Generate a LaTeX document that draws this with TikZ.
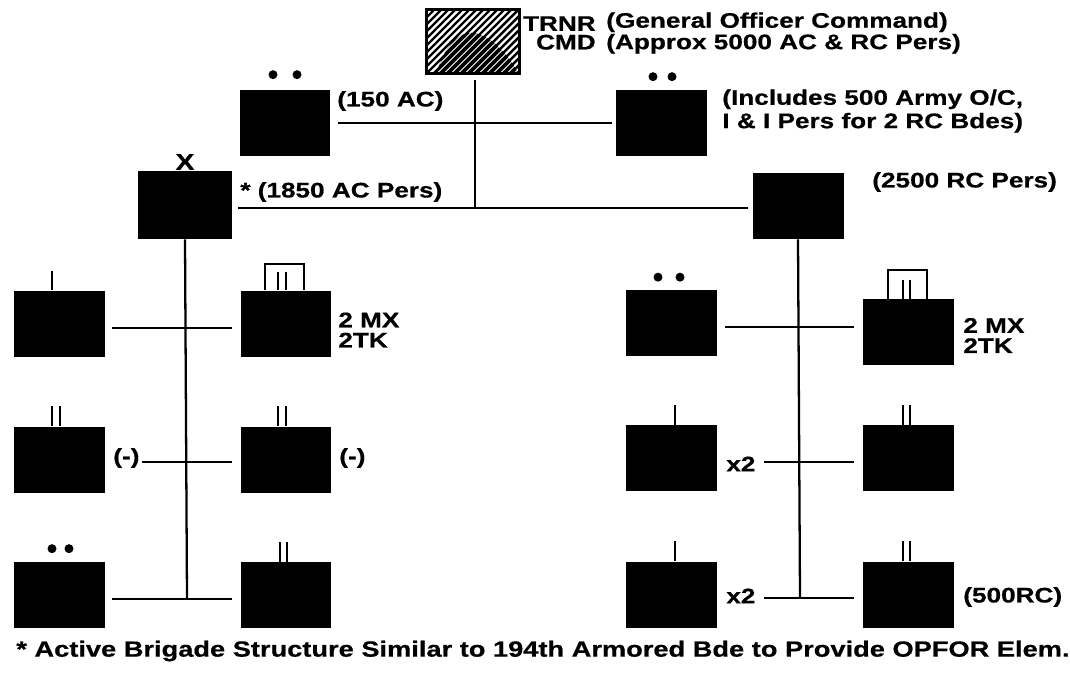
\documentclass[tikz,border=0pt]{standalone}
\usepackage{fontspec}
\setmainfont{Liberation Sans}[FakeStretch=1.24,BoldFeatures={FakeBold=0.6}]
\usetikzlibrary{positioning,calc}

\newcommand\blobpath{(436,75) .. controls (444,46) and (460,28) .. (478,34) .. controls (496,40) and (508,56) .. (520,75) -- cycle}

\begin{document}
\begin{tikzpicture}[x=0.02cm,y=-0.02cm,font=\fontsize{12}{14}\selectfont\bfseries,
  unit/.style={fill=black,inner sep=0,minimum width=1.82cm,minimum height=1.32cm},
  link/.style={line width=1.3pt},
  tick/.style={line width=1.1pt},
  lbl/.style={inner sep=0,anchor=west,align=left}]

  \useasboundingbox (0,0) rectangle (1070,676);

  % command
  \node[fill=white,inner sep=0,minimum width=1.84cm,minimum height=1.26cm] (cmd) at (473,41.5) {};
  \begin{scope}
    \clip (cmd.south west) rectangle (cmd.north east);
    \foreach \k in {0,...,26}
      \draw[line width=1.4pt] (350+7*\k,80) -- ++(85,-85);
  \end{scope}
  \begin{scope}
    \clip (cmd.south west) rectangle (cmd.north east);
    \clip \blobpath;
    \fill \blobpath;
    \foreach \k in {0,...,26}
      \draw[white,line width=0.45pt] (353.5+7*\k,80) -- ++(85,-85);
  \end{scope}
  \draw[line width=1.6pt] (cmd.south west) rectangle (cmd.north east);
  \node[inner sep=0,anchor=east,align=right,font=\fontsize{12}{10.6}\selectfont\bfseries] (trnr) at (596,33) {TRNR\\CMD};
  \node[lbl,font=\fontsize{12}{10.6}\selectfont\bfseries] (gen) at (606,33) {(General Officer Command)\\(Approx 5000 AC \& RC Pers)};

  % staff
  \node[unit] (hq1) at (285,123) {};
  \node[unit] (hq2) at (661,123) {};
  \fill ($(hq1.north)+(-12,-15)$) circle (4.5) ($(hq1.north)+(12,-15)$) circle (4.5);
  \fill ($(hq2.north)+(-8,-13)$) circle (4.5) ($(hq2.north)+(11,-13)$) circle (4.5);
  \node[lbl] (ac150) at (337,101) {(150 AC)};
  \node[lbl,font=\fontsize{12}{13.3}\selectfont\bfseries] (inc) at (722,111) {(Includes 500 Army O/C,\\I \& I Pers for 2 RC Bdes)};
  \draw[link,shorten <=4.3pt,shorten >=2pt] (hq1.east) -- (hq2.west);

  % brigades
  \node[unit,minimum width=1.88cm,minimum height=1.36cm] (bde) at (185,205) {};
  \node[unit] (rc) at (798,206) {};
  \node[inner sep=0,font=\fontsize{13}{15}\selectfont\bfseries] (xmark) at (185,162) {X};
  \node[lbl] (ac1850) at (240,192) {* (1850 AC Pers)};
  \node[lbl] (rc2500) at (872,182) {(2500 RC Pers)};
  \coordinate (tj) at (475,208);
  \draw[link] ($(tj |- cmd.south)+(0,7)$) -- (tj);
  \draw[link,shorten <=3.5pt,shorten >=2.5pt] (bde.east |- tj) -- (rc.west |- tj);

  % active side
  \node[unit] (a1) at (59.5,323.5) {};
  \node[unit] (b1) at (286,323.5) {};
  \node[unit] (a2) at (59.5,459.5) {};
  \node[unit] (b2) at (286,459.5) {};
  \node[unit] (a3) at (59.5,595) {};
  \node[unit] (b3) at (286,595) {};
  \draw[tick] ($(a1.north)+(-7.5,0)$) -- ++(0,-19);
  \draw[tick] ($(b1.north)+(-21,0)$) -- ++(0,-26) -- ++(39,0) -- ++(0,26);
  \draw[tick] ($(b1.north)+(-8,0)$) -- ++(0,-18) ($(b1.north)+(0,0)$) -- ++(0,-18);
  \draw[tick] ($(a2.north)+(-7.5,0)$) -- ++(0,-20) ($(a2.north)+(0.5,0)$) -- ++(0,-20);
  \draw[tick] ($(b2.north)+(-8,0)$) -- ++(0,-20) ($(b2.north)+(0,0)$) -- ++(0,-20);
  \draw[tick] ($(b3.north)+(-6,0)$) -- ++(0,-20) ($(b3.north)+(1,0)$) -- ++(0,-20);
  \fill ($(a3.north)+(-7.5,-13)$) circle (4.5) ($(a3.north)+(9.5,-13)$) circle (4.5);
  \node[lbl,font=\fontsize{12}{11.5}\selectfont\bfseries] (mx1) at (338,330) {2 MX\\2TK};
  \node[lbl] (m1) at (113,458) {(-)};
  \node[lbl] (m2) at (339,458) {(-)};
  \coordinate (lj1) at (187,328);
  \coordinate (lj2) at (187,462);
  \coordinate (lj3) at (187,599);
  \draw[link] (bde.south) -- (lj3);
  \draw[link,shorten <=4pt,shorten >=4.8pt] (a1.east |- lj1) -- (b1.west |- lj1);
  \draw[link,shorten <=1pt,shorten >=4.8pt] (m1.east |- lj2) -- (b2.west |- lj2);
  \draw[link,shorten <=4pt,shorten >=4.8pt] (a3.east |- lj3) -- (b3.west |- lj3);

  % reserve side
  \node[unit] (c1) at (671,322.5) {};
  \node[unit] (d1) at (908.5,332) {};
  \node[unit] (c2) at (671,458) {};
  \node[unit] (d2) at (908.5,458) {};
  \node[unit] (c3) at (671,594.5) {};
  \node[unit] (d3) at (908.5,594.5) {};
  \fill ($(c1.north)+(-13,-12)$) circle (4.5) ($(c1.north)+(9,-12)$) circle (4.5);
  \draw[tick] ($(d1.north)+(-20.5,0)$) -- ++(0,-29) -- ++(39,0) -- ++(0,29);
  \draw[tick] ($(d1.north)+(-5.5,0)$) -- ++(0,-19) ($(d1.north)+(1.5,0)$) -- ++(0,-19);
  \draw[tick] ($(c2.north)+(4,0)$) -- ++(0,-20);
  \draw[tick] ($(d2.north)+(-5.5,0)$) -- ++(0,-20) ($(d2.north)+(1.5,0)$) -- ++(0,-20);
  \draw[tick] ($(c3.north)+(4,0)$) -- ++(0,-20);
  \draw[tick] ($(d3.north)+(-5.5,0)$) -- ++(0,-20) ($(d3.north)+(1.5,0)$) -- ++(0,-20);
  \node[lbl,font=\fontsize{12}{11.5}\selectfont\bfseries] (mx2) at (963,335.5) {2 MX\\2TK};
  \node[lbl] (x2a) at (726,464) {x2};
  \node[lbl] (x2b) at (726,596) {x2};
  \node[lbl] (rc500) at (963,597) {(500RC)};
  \coordinate (rj1) at (800,327);
  \coordinate (rj2) at (800,462);
  \coordinate (rj3) at (800,598);
  \draw[link] (rc.south) -- (rj3);
  \draw[link,shorten <=4.5pt,shorten >=5pt] (c1.east |- rj1) -- (d1.west |- rj1);
  \draw[link,shorten <=4.5pt,shorten >=5pt] (x2a.east |- rj2) -- (d2.west |- rj2);
  \draw[link,shorten <=4.5pt,shorten >=5pt] (x2b.east |- rj3) -- (d3.west |- rj3);

  % note
  \node[lbl,font=\fontsize{12.5}{14}\selectfont\bfseries] (note) at (16,651) {* Active Brigade Structure Similar to 194th Armored Bde to Provide OPFOR Elem.};
\end{tikzpicture}
\end{document}
